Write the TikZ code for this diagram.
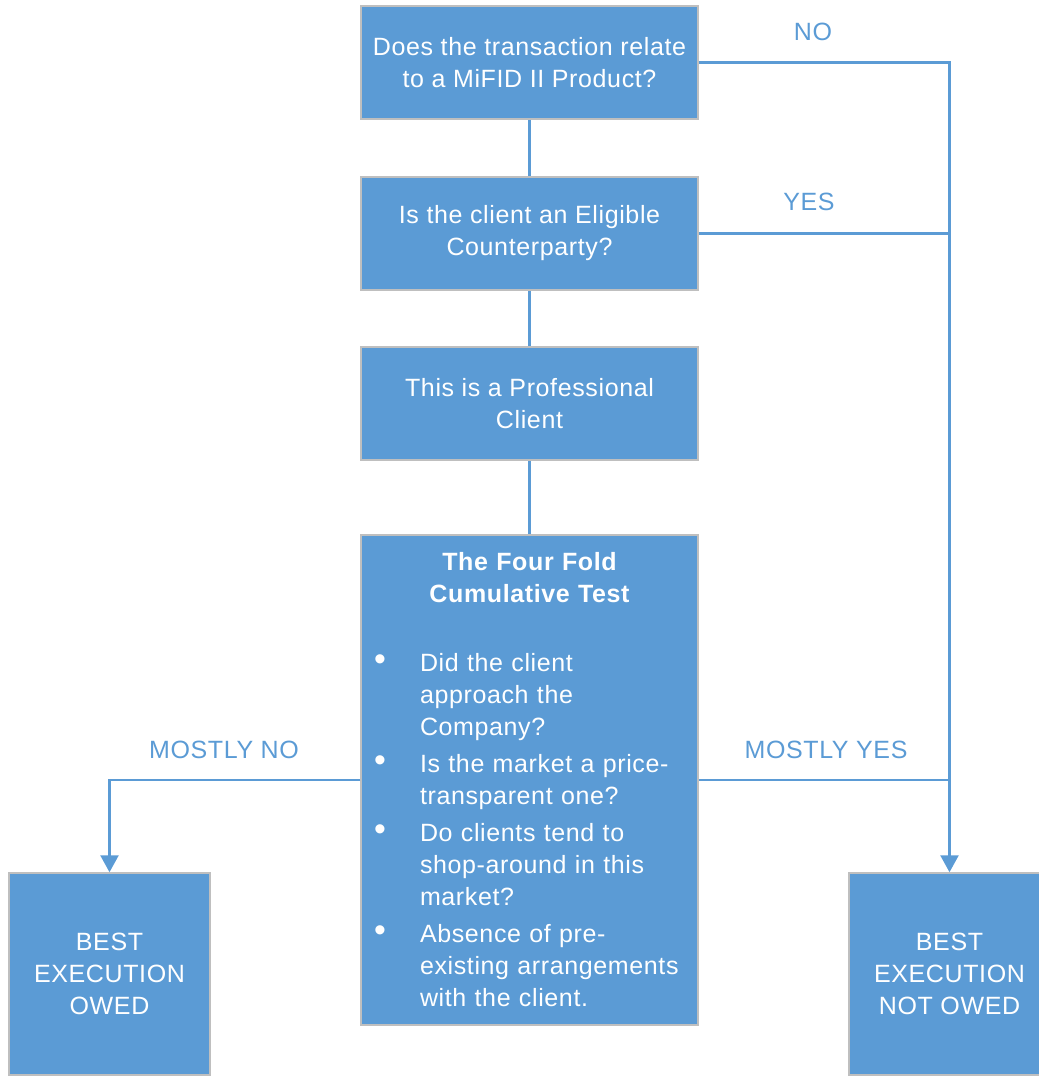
\documentclass[tikz,border=0pt]{standalone}
\usepackage{fontspec}
\setmainfont{Liberation Sans}[LetterSpace=2.5]
\usetikzlibrary{arrows.meta, positioning}

\definecolor{boxblue}{HTML}{5B9BD5}
\definecolor{boxrim}{HTML}{BFBFBF}

\newcommand{\testitem}[1]{\par{\raggedright\let\\\newline\noindent\hangindent=47pt\hangafter=1
  \makebox[47pt][l]{\hspace{1pt}\raisebox{1pt}{\scalebox{1.35}{\textbullet}}}#1\par}\vspace{5pt}}

\begin{document}
\begin{tikzpicture}[
  x=1pt, y=-1pt,
  box/.style={rectangle, draw=boxrim, line width=1.5pt, fill=boxblue, text=white,
    align=center, font=\fontsize{25}{32}\selectfont, inner sep=0pt},
  question/.style={box, minimum width=337pt, minimum height=113pt},
  result/.style={box, minimum width=201pt, minimum height=202pt},
  conn/.style={draw=boxblue, line width=2.5pt},
  edge/.style={conn, -{Triangle[width=18pt,length=17pt]}},
  lbl/.style={text=boxblue, font=\fontsize{25}{32}\selectfont}
]
\useasboundingbox (0,0) rectangle (1039,1077);

\node[question] (mifid) at (529.5,62.5) {Does the transaction relate\\to a MiFID II Product?};
\node[question] (ecp) at (529.5,233.5) {Is the client an Eligible\\Counterparty?};
\node[question] (prof) at (529.5,403.5) {This is a Professional\\Client};
\node[box, minimum width=337pt, minimum height=490pt, text width=313pt] (test) at (529.5,780) {%
  {\bfseries The Four Fold\\Cumulative Test}\par\vspace{37pt}
  \testitem{Did the client\\approach the\\Company?}
  \testitem{Is the market a price-\\transparent one?}
  \testitem{Do clients tend to\\shop-around in this\\market?}
  \testitem{Absence of pre-\\existing arrangements\\with the client.}\vspace{-5pt}};
\node[result] (owed) at (109.5,974) {BEST\\EXECUTION\\OWED};
\node[result] (notowed) at (949.5,974) {BEST\\EXECUTION\\NOT OWED};

\draw[conn] (mifid) -- (ecp);
\draw[conn] (ecp) -- (prof);
\draw[conn] (prof) -- (test);
\draw[edge] (mifid.east) -| (notowed.north);
\draw[conn] (ecp.east) -- (ecp.east -| notowed.north);
\draw[conn] (test.east) -- (test.east -| notowed.north);
\draw[edge] (test.west) -| (owed.north);

\node[lbl] (no) at (813,32) {NO};
\node[lbl] (yes) at (809,202) {YES};
\node[lbl] (mostlyyes) at (826,750) {MOSTLY YES};
\node[lbl] (mostlyno) at (224,750) {MOSTLY NO};
\end{tikzpicture}
\end{document}
